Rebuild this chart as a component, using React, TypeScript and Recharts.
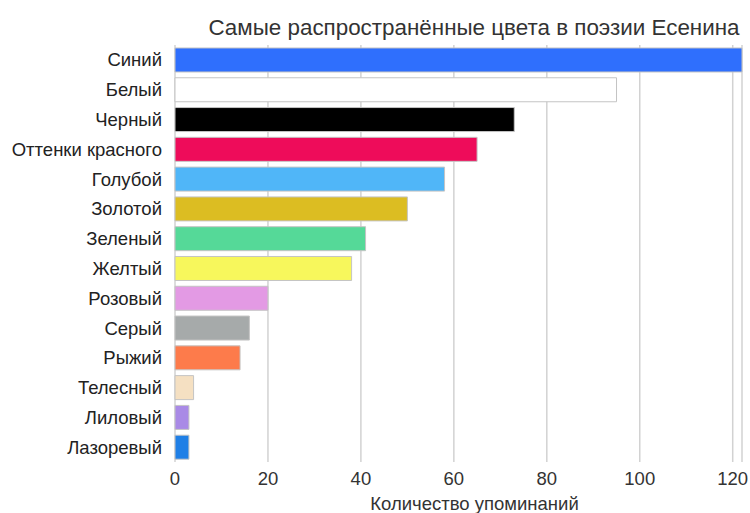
import { Bar, BarChart, CartesianGrid, Cell, XAxis, YAxis } from "recharts";

const colorNames = [
	"Синий",
	"Белый",
	"Черный",
	"Оттенки красного",
	"Голубой",
	"Золотой",
	"Зеленый",
	"Желтый",
	"Розовый",
	"Серый",
	"Рыжий",
	"Телесный",
	"Лиловый",
	"Лазоревый",
];

const mentions = [122, 95, 73, 65, 58, 50, 41, 38, 20, 16, 14, 4, 3, 3];

const barColors = [
	"#2f6ffd",
	"#ffffff",
	"#000000",
	"#ee0c5a",
	"#50b6f8",
	"#dcbd22",
	"#55d998",
	"#f7f75c",
	"#e39ae4",
	"#a6aaaa",
	"#fd7b4b",
	"#f5e0c2",
	"#a98ae6",
	"#1f7fe6",
];

const xTicks = [0, 20, 40, 60, 80, 100, 120];

const data = colorNames.map((name, i) => ({ name, count: mentions[i] }));

const font = "'Liberation Sans', Arial, sans-serif";

export default function App() {
	return (
		<div style={{ position: "absolute", left: 0, top: 0, width: 750, height: 513, background: "#fff", fontFamily: font }}>
			<div
				style={{
					position: "absolute",
					top: 15,
					left: 0,
					width: 948,
					textAlign: "center",
					fontSize: 22.4,
					color: "#333",
				}}
			>
				Самые распространённые цвета в поэзии Есенина
			</div>
			<BarChart
				width={750}
				height={513}
				data={data}
				layout="vertical"
				margin={{ top: 45, right: 8, bottom: 21, left: 0 }}
				barCategoryGap="10%"
			>
				<CartesianGrid horizontal={false} stroke="#d2d2d2" strokeWidth={1.5} />
				<XAxis
					type="number"
					domain={[0, 122]}
					ticks={xTicks}
					height={30}
					axisLine={false}
					tickLine={false}
					tickMargin={4}
					tick={{ fill: "#333", fontSize: 18.5, fontFamily: font }}
					label={{
						value: "Количество упоминаний",
						position: "bottom",
						offset: 5,
						dx: 16,
						fill: "#333",
						fontSize: 18.5,
						fontFamily: font,
					}}
				/>
				<YAxis
					type="category"
					dataKey="name"
					width={175}
					axisLine={false}
					tickLine={false}
					tickMargin={7}
					interval={0}
					tick={{ fill: "#222", fontSize: 18.5, fontFamily: font }}
				/>
				<Bar dataKey="count" isAnimationActive={false} stroke="#c4c4c4" strokeWidth={1}>
					{data.map((entry, index) => (
						<Cell key={entry.name} fill={barColors[index]} />
					))}
				</Bar>
			</BarChart>
		</div>
	);
}
